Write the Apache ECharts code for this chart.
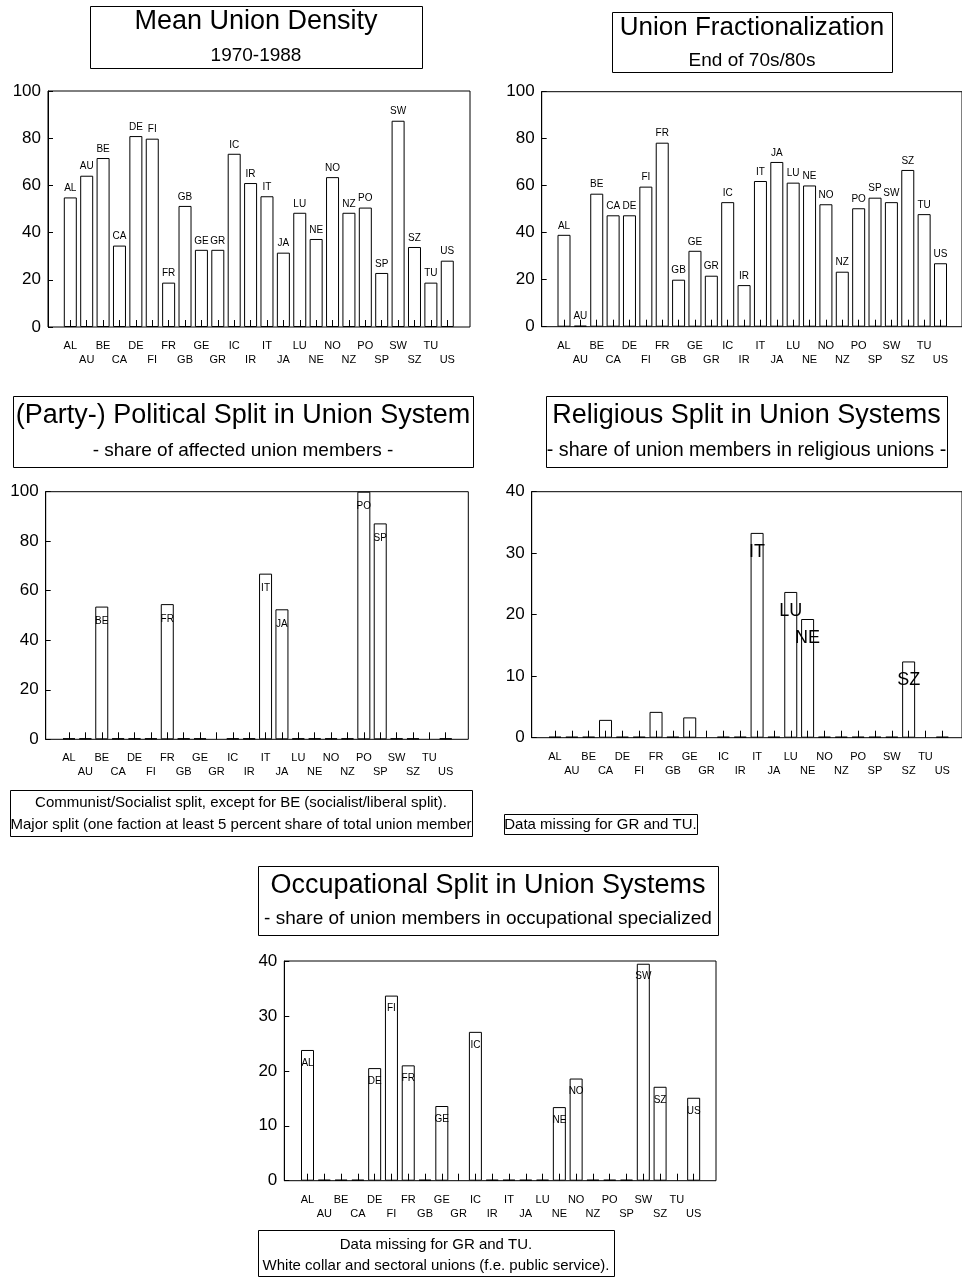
<!DOCTYPE html>
<html>
<head>
<meta charset="utf-8">
<title>Union Structure Indicators</title>
<script src="https://cdn.jsdelivr.net/npm/echarts@6/dist/echarts.min.js"></script>
<style>
  html, body { margin: 0; padding: 0; background: #fff; }
  #chart { width: 962px; height: 1280px; }
</style>
</head>
<body>
<div id="chart"></div>
<script>
// Country codes, in the order used on every panel
const countries = ['AL','AU','BE','CA','DE','FI','FR','GB','GE','GR','IC','IR','IT','JA','LU','NE','NO','NZ','PO','SP','SW','SZ','TU','US'];

// Mean union density 1970-1988 (%)
const unionDensity = [54.9,64.1,71.6,34.5,80.9,79.8,18.8,51.3,32.7,32.7,73.4,61.0,55.4,31.5,48.4,37.3,63.5,48.4,50.6,22.9,87.4,33.9,18.8,28.1];
// Union fractionalization, end of 70s/80s
const fractionalization = [39.1,0,56.6,47.4,47.4,59.6,78.3,20.0,32.3,21.7,53.0,17.7,62.0,70.1,61.3,60.1,52.1,23.4,50.4,54.9,53.0,66.7,47.9,27.0];
// (Party-) political split: share of affected union members (null = missing)
const politicalSplit = [0,0,53.6,0,0,0,54.6,0,0,null,0,0,66.9,52.5,0,0,0,0,100,87.2,0,0,null,0];
// Religious split: share of members in religious unions (null = missing)
const religiousSplit = [0,0,0,2.9,0,0,4.2,0,3.3,null,0,0,33.3,0,23.7,19.3,0,0,0,0,0,12.4,null,0];
// Occupational split: share of members in occupational unions (null = missing)
const occupationalSplit = [23.8,0,0,0,20.5,33.7,21.0,0,13.6,null,27.1,0,0,0,0,13.4,18.6,0,0,0,39.5,17.1,null,15.1];

// Y-axis scales
const pctTicks = { min: 0, max: 100, interval: 20 };
const shareTicks = { min: 0, max: 40, interval: 10 };

const FONT = '"Liberation Sans", Arial, Helvetica, sans-serif';

// Panel layout: frame box and category band geometry
const panels = [
  { data: unionDensity, scale: pctTicks, frame: [48, 91, 422, 236], first: 70.3, step: 16.39, label: 'top', labelSize: 10, labelMin: -1 },
  { data: fractionalization, scale: pctTicks, frame: [541.7, 91.7, 423, 235], first: 564, step: 16.37, label: 'top', labelSize: 10, labelMin: -1 },
  { data: politicalSplit, scale: pctTicks, frame: [45.7, 491.7, 422.6, 247.6], first: 69, step: 16.38, label: 'insideTop', labelSize: 10, dist: 10, labelMin: 5 },
  { data: religiousSplit, scale: shareTicks, frame: [531.7, 491.7, 433, 246], first: 555, step: 16.84, label: 'insideTop', labelSize: 18, dist: 10, labelMin: 5 },
  { data: occupationalSplit, scale: shareTicks, frame: [284.3, 961, 431.7, 219.7], first: 307.5, step: 16.79, label: 'insideTop', labelSize: 10, dist: 8, labelMin: 5 }
];

const grid = [], xAxis = [], yAxis = [], series = [];

panels.forEach((p) => {
  const [fx, fy, fw, fh] = p.frame;
  // frame grid: box + value axis with labels
  const gf = grid.length;
  grid.push({ left: fx, top: fy, width: fw, height: fh, show: true, borderColor: '#000', borderWidth: 1, backgroundColor: 'transparent' });
  xAxis.push({ gridIndex: gf, type: 'value', show: false });
  yAxis.push({
    gridIndex: gf, type: 'value', min: p.scale.min, max: p.scale.max, interval: p.scale.interval,
    axisLine: { show: true, lineStyle: { color: '#000', width: 1 } },
    axisTick: { show: true, inside: true, length: 5, lineStyle: { color: '#000' } },
    splitLine: { show: false },
    axisLabel: { color: '#000', fontSize: 17, fontFamily: FONT, margin: 7 }
  });
  // data grid: category bands
  const gd = grid.length;
  grid.push({ left: p.first - p.step / 2, top: fy, width: p.step * countries.length, height: fh });
  xAxis.push({
    gridIndex: gd, type: 'category', data: countries, boundaryGap: true, z: 10,
    axisLine: { show: false },
    axisTick: { show: true, inside: true, alignWithLabel: true, length: 7, lineStyle: { color: '#000' } },
    axisLabel: {
      interval: 0, color: '#000', fontSize: 11, fontFamily: FONT, lineHeight: 14, margin: 12,
      formatter: (v, i) => (i % 2 ? '\n' + v : v)
    }
  });
  yAxis.push({ gridIndex: gd, type: 'value', min: p.scale.min, max: p.scale.max, show: false });
  series.push({
    type: 'bar', xAxisIndex: xAxis.length - 1, yAxisIndex: yAxis.length - 1,
    data: p.data, barWidth: 13, barMinHeight: 1, z: 2,
    itemStyle: { color: '#fff', borderColor: '#000', borderWidth: 1 },
    label: {
      show: true, position: p.label, distance: p.dist != null ? p.dist : 4,
      color: '#000', fontSize: p.labelSize, fontFamily: FONT,
      formatter: d => (d.value > p.labelMin ? countries[d.dataIndex] : '')
    },
    emphasis: { disabled: true },
    animation: false
  });
});

// Boxed headings and notes
function box(x, y, w, h, lines) {
  const children = [{
    type: 'rect', shape: { x: x + 0.5, y: y + 0.5, width: w, height: h },
    style: { fill: '#fff', stroke: '#000', lineWidth: 1 }
  }];
  lines.forEach(l => children.push({
    type: 'text', x: l.x != null ? l.x : x + w / 2, y: l.y,
    style: { text: l.text, fontSize: l.size, fontFamily: FONT, fill: '#000', align: 'center', verticalAlign: 'middle' }
  }));
  return { type: 'group', children };
}

const graphic = [
  box(90, 6, 332, 62, [{ text: 'Mean Union Density', y: 22, size: 27 }, { text: '1970-1988', y: 56, size: 19 }]),
  box(612, 12, 280, 60, [{ text: 'Union Fractionalization', y: 28, size: 26 }, { text: 'End of 70s/80s', y: 61, size: 19 }]),
  box(13, 396, 460, 71, [{ text: '(Party-) Political Split in Union System', y: 416, size: 27 }, { text: '- share of affected union members -', y: 451, size: 19 }]),
  box(546, 396, 401, 71, [{ text: 'Religious Split in Union Systems', y: 416, size: 27 }, { text: '- share of union members in religious unions -', y: 451, size: 19.7 }]),
  box(10, 790, 462, 46, [{ text: 'Communist/Socialist split, except for BE (socialist/liberal split).', y: 803, size: 15 }, { text: 'Major split (one faction at least 5 percent share of total union member', y: 825, size: 15 }]),
  box(504, 814, 193, 20, [{ text: 'Data missing for GR and TU.', y: 824.5, size: 15 }]),
  box(258, 866, 460, 69, [{ text: 'Occupational Split in Union Systems', y: 886, size: 27 }, { text: '- share of union members in occupational specialized', y: 919, size: 19 }]),
  box(258, 1230, 356, 46, [{ text: 'Data missing for GR and TU.', y: 1245, size: 15 }, { text: 'White collar and sectoral unions (f.e. public service).', y: 1266, size: 15 }])
];

const chart = echarts.init(document.getElementById('chart'), null, { renderer: 'canvas' });
chart.setOption({
  backgroundColor: '#fff',
  animation: false,
  grid, xAxis, yAxis, series, graphic
});
</script>
</body>
</html>
